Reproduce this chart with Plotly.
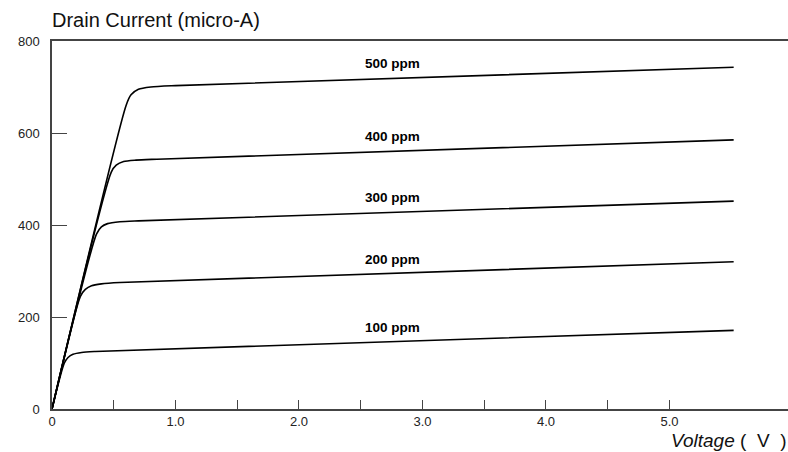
import plotly.graph_objects as go

# Data (Voltage in V, Drain current in micro-A)
labels = ["100 ppm", "200 ppm", "300 ppm", "400 ppm", "500 ppm"]
v100 = [0, 0.10, 0.13, 0.17, 0.24, 0.35, 5.52]
i100 = [0, 100, 112, 119, 123, 125, 171]
v200 = [0, 0.23, 0.27, 0.32, 0.40, 0.55, 5.52]
i200 = [0, 245, 260, 268, 272, 275, 320]
v300 = [0, 0.36, 0.40, 0.45, 0.55, 0.70, 5.52]
i300 = [0, 380, 396, 403, 407, 409, 452]
v400 = [0, 0.48, 0.52, 0.58, 0.68, 0.85, 5.52]
i400 = [0, 515, 530, 538, 541, 543, 585]
v500 = [0, 0.60, 0.64, 0.70, 0.80, 1.00, 5.52]
i500 = [0, 660, 683, 695, 700, 703, 743]
label_x = [2.76, 2.76, 2.76, 2.76, 2.76]
label_y = [178, 324, 459, 593, 752]

x_tickvals = [0, 0.5, 1, 1.5, 2, 2.5, 3, 3.5, 4, 4.5, 5]
x_ticktext = ["0", "", "1.0", "", "2.0", "", "3.0", "", "4.0", "", "5.0"]
y_tickvals = [0, 200, 400, 600, 800]

series = [(v100, i100), (v200, i200), (v300, i300), (v400, i400), (v500, i500)]

FONT = "Liberation Sans, Arial, sans-serif"

fig = go.Figure()
for (vx, iy), name in zip(series, labels):
    fig.add_trace(go.Scatter(x=vx, y=iy, mode="lines", name=name,
                             line=dict(color="black", width=1.6, shape="spline", smoothing=0.7),
                             showlegend=False, hoverinfo="skip"))

for lx, ly, t in zip(label_x, label_y, labels):
    fig.add_annotation(x=lx, y=ly, text="<b>" + t + "</b>", showarrow=False,
                       font=dict(family=FONT, size=13.5, color="black"),
                       xanchor="center", yanchor="middle")

fig.add_annotation(xref="paper", yref="paper", x=-0.003, y=1.0, yshift=8,
                   text="Drain Current (micro-A)", showarrow=False,
                   xanchor="left", yanchor="bottom",
                   font=dict(family=FONT, size=20, color="#111"))
fig.add_annotation(xref="paper", yref="paper", x=1.0, y=0, yshift=-19,
                   text="<i>Voltage</i> (  V  )", showarrow=False,
                   xanchor="right", yanchor="top",
                   font=dict(family=FONT, size=19, color="#111"))

fig.update_layout(
    width=788, height=452,
    margin=dict(l=52, r=0, t=41, b=43),
    paper_bgcolor="white", plot_bgcolor="white",
    font=dict(family=FONT, size=13, color="#222"),
    xaxis=dict(range=[0, 5.96], tickvals=x_tickvals, ticktext=x_ticktext,
               ticks="inside", ticklen=9, tickcolor="#444", tickwidth=1,
               showline=True, linecolor="#444", linewidth=1.5, mirror=True,
               showgrid=False, zeroline=False, fixedrange=True),
    yaxis=dict(range=[0, 800], tickvals=y_tickvals,
               ticks="inside", ticklen=15, tickcolor="#444", tickwidth=1,
               showline=True, linecolor="#444", linewidth=1.5,
               ticklabelstandoff=8,
               showgrid=False, zeroline=False, fixedrange=True),
)

fig.write_html("out.html", config={"displayModeBar": False},
               post_script="document.body.style.margin='0';document.body.style.padding='0';")
